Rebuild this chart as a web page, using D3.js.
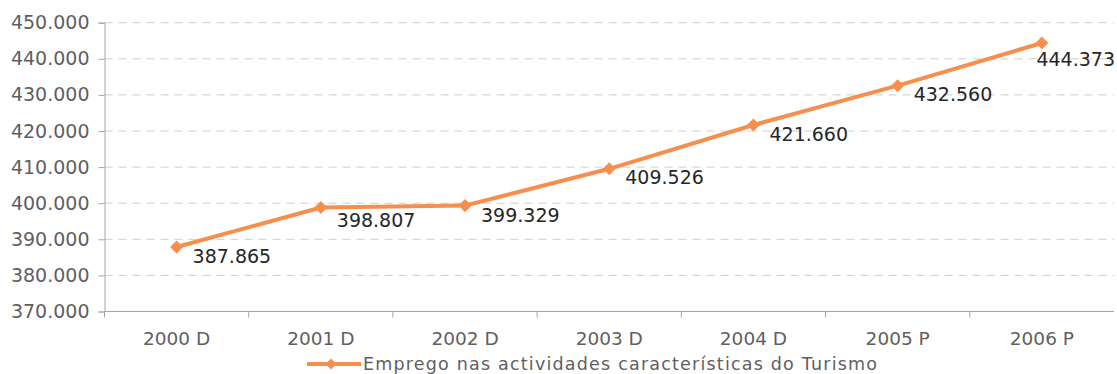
<!DOCTYPE html>
<html>
<head>
<meta charset="utf-8">
<script src="https://cdn.jsdelivr.net/npm/d3@7"></script>
<style>
  html, body { margin: 0; padding: 0; background: #fff; }
  svg { display: block; font-family: "DejaVu Sans", Verdana, sans-serif; }
</style>
</head>
<body>
<svg id="chart" width="1117" height="374"></svg>
<script>
// Employment in tourism-characteristic activities
const categories = ["2000 D", "2001 D", "2002 D", "2003 D", "2004 D", "2005 P", "2006 P"];
const values = [387865, 398807, 399329, 409526, 421660, 432560, 444373];
const valueLabels = ["387.865", "398.807", "399.329", "409.526", "421.660", "432.560", "444.373"];
const yTicks = [370000, 380000, 390000, 400000, 410000, 420000, 430000, 440000, 450000];
const yTickLabels = ["370.000", "380.000", "390.000", "400.000", "410.000", "420.000", "430.000", "440.000", "450.000"];
const seriesName = "Emprego nas actividades características do Turismo";

const W = 1117, H = 374;
const plot = { left: 104.5, right: 1114, top: 22.7, bottom: 311.5 };
const orange = "#f68f4e";

const svg = d3.select("#chart");

const x = d3.scaleBand()
  .domain(categories)
  .range([plot.left, plot.right]);

const y = d3.scaleLinear()
  .domain([370000, 450000])
  .range([plot.bottom, plot.top]);

const cx = c => x(c) + x.bandwidth() / 2;

// dashed horizontal gridlines
svg.append("g")
  .selectAll("line")
  .data(yTicks.slice(1))
  .join("line")
  .attr("x1", plot.left)
  .attr("x2", plot.right)
  .attr("y1", d => y(d))
  .attr("y2", d => y(d))
  .attr("stroke", "#cdcdcd")
  .attr("stroke-width", 1)
  .attr("stroke-dasharray", "8,6");

// y axis
const yAxis = svg.append("g")
  .attr("transform", `translate(${plot.left},0)`)
  .call(d3.axisLeft(y)
    .tickValues(yTicks)
    .tickFormat((d, i) => yTickLabels[i])
    .tickSize(6)
    .tickPadding(9));
yAxis.select(".domain").attr("stroke", "#a6a6a6");
yAxis.selectAll(".tick line").attr("stroke", "#a6a6a6");
yAxis.selectAll(".tick text")
  .attr("fill", "#5f5f5f")
  .style("font-family", "'DejaVu Sans', Verdana, sans-serif")
  .style("font-size", "19px");

// x axis with tick marks between categories
const xAxisG = svg.append("g")
  .attr("transform", `translate(0,${y(370000)})`);
xAxisG.append("line")
  .attr("x1", plot.left)
  .attr("x2", plot.right)
  .attr("stroke", "#a6a6a6");
xAxisG.selectAll("line.sep")
  .data(categories)
  .join("line")
  .attr("class", "sep")
  .attr("x1", d => x(d))
  .attr("x2", d => x(d))
  .attr("y1", 0)
  .attr("y2", 6)
  .attr("stroke", "#a6a6a6");
xAxisG.selectAll("text")
  .data(categories)
  .join("text")
  .attr("x", d => cx(d))
  .attr("y", 33)
  .attr("text-anchor", "middle")
  .attr("fill", "#5f5f5f")
  .style("font-size", "18.5px")
  .text(d => d);

// series line
const pts = categories.map((c, i) => ({ c, v: values[i], label: valueLabels[i] }));
const line = d3.line()
  .x(d => cx(d.c))
  .y(d => y(d.v));

svg.append("path")
  .datum(pts)
  .attr("d", line)
  .attr("fill", "none")
  .attr("stroke", orange)
  .attr("stroke-width", 4)
  .attr("stroke-linejoin", "round");

svg.append("g")
  .selectAll("path")
  .data(pts)
  .join("path")
  .attr("d", d3.symbol().type(d3.symbolSquare).size(85))
  .attr("transform", d => `translate(${cx(d.c)},${y(d.v)}) rotate(45)`)
  .attr("fill", orange);

// line height at a given x, used to keep labels clear of the series
const xsPts = pts.map(p => cx(p.c));
function lineYAt(px) {
  if (px <= xsPts[0]) return y(pts[0].v);
  if (px >= xsPts[xsPts.length - 1]) return y(pts[pts.length - 1].v);
  const i = d3.bisectRight(xsPts, px) - 1;
  const t = (px - xsPts[i]) / (xsPts[i + 1] - xsPts[i]);
  return y(pts[i].v) + t * (y(pts[i + 1].v) - y(pts[i].v));
}

// data labels: right of each point, nudged down where the line would cross them
const labelG = svg.append("g");
pts.forEach(d => {
  const t = labelG.append("text")
    .attr("fill", "#262626")
    .style("font-size", "19px")
    .text(d.label);
  const w = t.node().getComputedTextLength();
  const px = cx(d.c), py = y(d.v);
  let x0 = px + 16;
  if (x0 + w > W - 2) x0 = W - 2 - w;
  const capH = 14;
  let lowest = -Infinity;
  for (let sx = x0; sx <= x0 + w; sx += 2) lowest = Math.max(lowest, lineYAt(sx));
  if (x0 <= px + 8) lowest = Math.max(lowest, py + 3);
  let base = py + 14;
  if (base - capH < lowest + 6) base = lowest + 6 + capH;
  t.attr("x", x0).attr("y", base);
});

// legend
const lg = svg.append("g").attr("transform", "translate(307,364)");
lg.append("line")
  .attr("x1", 0).attr("x2", 54)
  .attr("stroke", orange).attr("stroke-width", 4);
lg.append("path")
  .attr("d", d3.symbol().type(d3.symbolSquare).size(60))
  .attr("transform", "translate(24,0) rotate(45)")
  .attr("fill", orange);
lg.append("text")
  .attr("x", 56)
  .attr("y", 6)
  .attr("fill", "#5f5f5f")
  .style("font-size", "17.5px")
  .style("letter-spacing", "1.2px")
  .text(seriesName);
</script>
</body>
</html>
